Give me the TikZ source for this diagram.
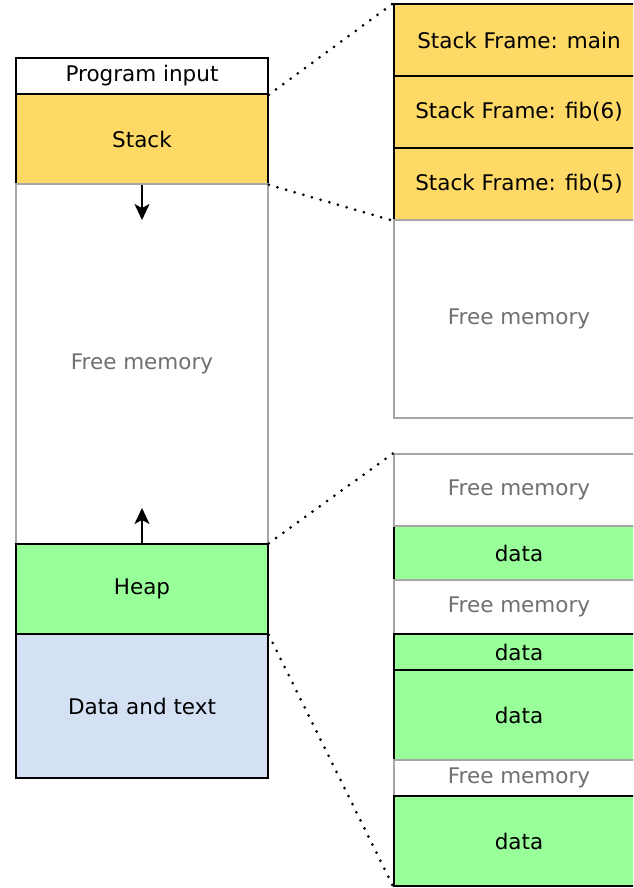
\documentclass[tikz,border=0pt]{standalone}
\usepackage{fontspec}
\setmainfont{DejaVu Sans}
\usetikzlibrary{arrows.meta}
\definecolor{stackyellow}{HTML}{FFD966}
\definecolor{heapgreen}{HTML}{99FF99}
\definecolor{datablue}{HTML}{D4E1F5}
\definecolor{freeline}{HTML}{A6A6A6}
\definecolor{freetext}{HTML}{707070}
\tikzset{
  seg/.style={draw=black, line width=1.5pt, rectangle, inner sep=0pt, anchor=center,
    font=\fontsize{21.5}{24}\selectfont},
  leftseg/.style={seg, minimum width=252pt},
  rightseg/.style={seg, minimum width=250pt},
  stackbox/.style={fill=stackyellow},
  heapbox/.style={fill=heapgreen},
  databox/.style={fill=datablue},
  freebox/.style={draw=freeline, fill=white, text=freetext},
  zoomline/.style={line width=3pt, line cap=round, dash pattern=on 0pt off 9pt},
  growarrow/.style={line width=1.8pt, -{Stealth[length=16pt,width=15pt,inset=4pt]}}
}
\begin{document}
\begin{tikzpicture}[x=1pt,y=-1pt]
\useasboundingbox (0,0) rectangle (633,888);
\clip (0,0) rectangle (633,888);
% left column
\node[leftseg, minimum height=36pt] (input) at (142,76) {Program input};
\node[leftseg, stackbox, minimum height=90pt] (stack) at (142,139) {Stack};
\node[leftseg, freebox, minimum height=360pt] (free) at (142,364) {Free memory};
\node[leftseg, heapbox, minimum height=90pt] (heap) at (142,589) {Heap};
\node[leftseg, databox, minimum height=144pt] (dt) at (142,706) {Data and text};
% right top
\node[rightseg, stackbox, minimum height=72pt] (main) at (519,40) {Stack Frame: main};
\node[rightseg, stackbox, minimum height=72pt] (fibsix) at (519,112) {Stack Frame: fib(6)};
\node[rightseg, stackbox, minimum height=72pt] (fibfive) at (519,184) {Stack Frame: fib(5)};
\node[rightseg, freebox, minimum height=198pt] (rfree) at (519,319) {Free memory};
% right bottom
\node[rightseg, heapbox, minimum height=54pt] (dA) at (519,553) {data};
\node[rightseg, freebox, minimum height=72pt] (fA) at (519,490) {Free memory};
\node[rightseg, freebox, minimum height=54pt] (fB) at (519,607) {Free memory};
\node[rightseg, heapbox, minimum height=36pt] (dB) at (519,652) {data};
\node[rightseg, heapbox, minimum height=90pt] (dC) at (519,715) {data};
\node[rightseg, freebox, minimum height=36pt] (fC) at (519,778) {Free memory};
\node[rightseg, heapbox, minimum height=90pt] (dD) at (519,841) {data};
% arrows
\coordinate (sdown) at (142,220);
\coordinate (hup) at (142,508);
\draw[growarrow] (stack.south) -- (sdown);
\draw[growarrow] (heap.north) -- (hup);
% zoom lines
\draw[zoomline] (input.south east) -- (main.north west);
\draw[zoomline] (stack.south east) -- (fibfive.south west);
\draw[zoomline] (heap.north east) -- (fA.north west);
\draw[zoomline] (heap.south east) -- (dD.south west);
\end{tikzpicture}
\end{document}
